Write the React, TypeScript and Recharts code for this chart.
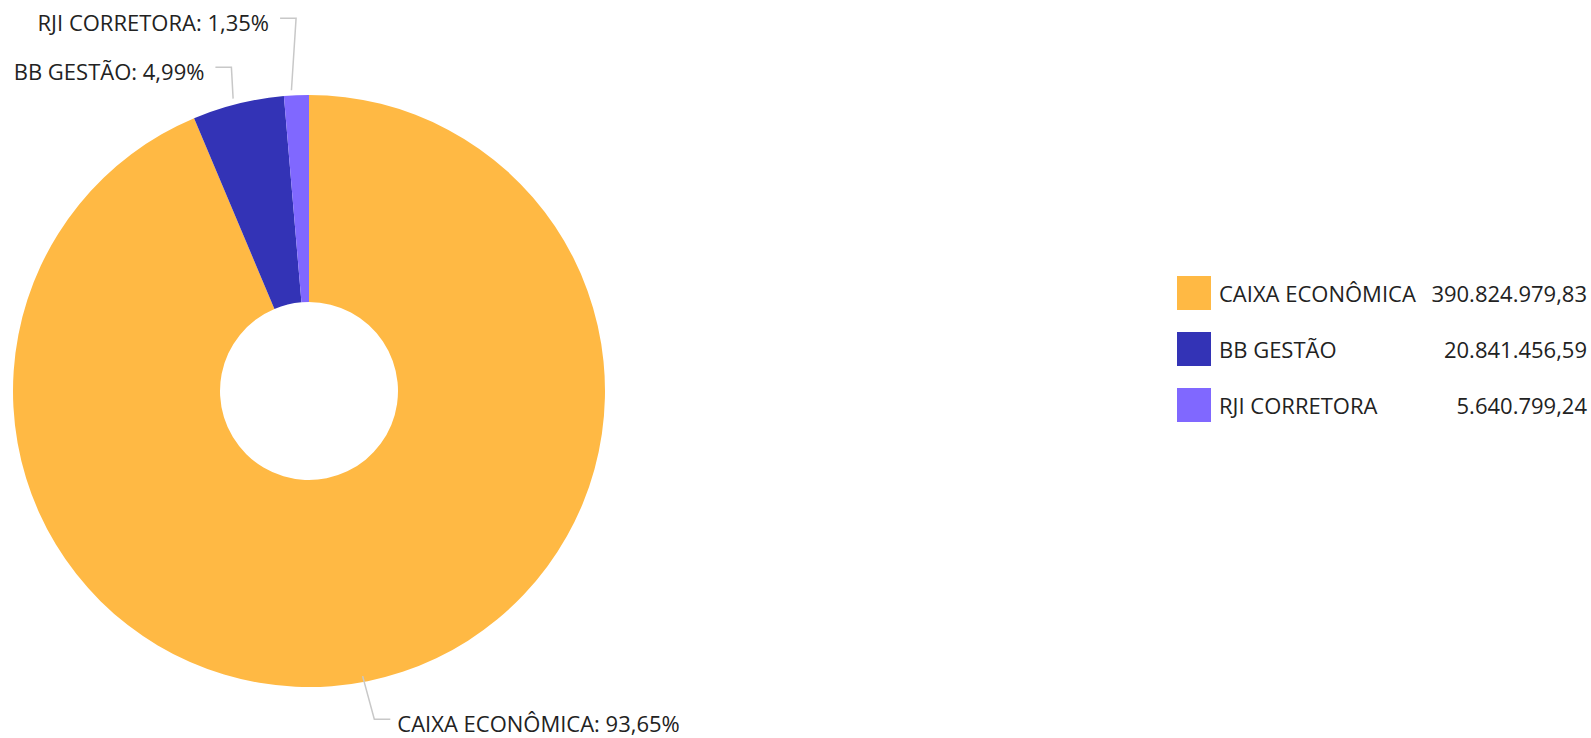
import React from "react"
import { PieChart, Pie, Cell, Legend } from "recharts"

const corretoras = ["CAIXA ECONÔMICA", "BB GESTÃO", "RJI CORRETORA"]
const valores = [390824979.83, 20841456.59, 5640799.24]
const cores = ["#FFB944", "#3333B6", "#8068FF"]

const CX = 304
const CY = 386
const OUTER = 296
const INNER = 89
const START = 90
const END = -270
const FONT = "'Open Sans', sans-serif"

const total = valores.reduce((a, b) => a + b, 0)
const data = corretoras.map((name, i) => ({ name, value: valores[i], fill: cores[i] }))

function formatBRL(v: number): string {
  const [int, dec] = v.toFixed(2).split(".")
  return `${int.replace(/\B(?=(\d{3})+(?!\d))/g, ".")},${dec}`
}

function formatPct(v: number): string {
  return `${((v / total) * 100).toFixed(2).replace(".", ",")}%`
}

// leader line layout: elbow on a ring outside the pie, pushed apart when labels collide
const RAD = Math.PI / 180
const labelLayout = (() => {
  let acc = START
  const items = valores.map((v, i) => {
    const span = ((END - START) * v) / total
    const mid = acc + span / 2
    acc += span
    const cos = Math.cos(mid * RAD)
    const sin = Math.sin(mid * RAD)
    const ring = OUTER + 38 - 6 * sin
    const left = cos < 0
    return {
      i,
      left,
      sx: CX + OUTER * cos,
      sy: CY - OUTER * sin,
      ex: CX + ring * cos + (left ? 6 : 3),
      ey: CY - ring * sin,
    }
  })
  const gap = 49
  for (const side of [true, false]) {
    const group = items.filter((d) => d.left === side).sort((a, b) => a.ey - b.ey)
    for (let k = group.length - 2; k >= 0; k--) {
      if (group[k].ey > group[k + 1].ey - gap) group[k].ey = group[k + 1].ey - gap
    }
  }
  return items.sort((a, b) => a.i - b.i)
})()

// eslint-disable-next-line @typescript-eslint/no-explicit-any
function renderLabel(props: any) {
  const l = labelLayout[props.index]
  const hx = l.left ? l.ex - 16 : l.ex + 16
  const tx = l.left ? hx - 11 : hx + 7
  return (
    <g key={`lbl-${props.index}`}>
      <polyline
        points={`${l.sx},${l.sy} ${l.ex},${l.ey} ${hx},${l.ey}`}
        fill="none"
        stroke="#c8c8c8"
        strokeWidth={1.5}
      />
      <text
        x={tx}
        y={l.ey + 4}
        textAnchor={l.left ? "end" : "start"}
        dominantBaseline="central"
        fontFamily={FONT}
        fontSize={22}
        fill="#222"
      >
        {`${corretoras[props.index]}: ${formatPct(valores[props.index])}`}
      </text>
    </g>
  )
}

function LegendContent() {
  return (
    <div style={{ fontFamily: FONT, fontSize: 22, color: "#222", width: 410 }}>
      {corretoras.map((name, i) => (
        <div key={name} style={{ display: "flex", alignItems: "center", height: 34, marginBottom: 22 }}>
          <div style={{ width: 34, height: 34, background: cores[i], flexShrink: 0 }} />
          <span style={{ marginLeft: 8, whiteSpace: "nowrap" }}>{name}</span>
          <span style={{ flex: 1, textAlign: "right", whiteSpace: "nowrap" }}>{formatBRL(valores[i])}</span>
        </div>
      ))}
    </div>
  )
}

export default function App() {
  return (
    <div style={{ position: "absolute", left: 0, top: 0, background: "#fff" }}>
      <PieChart width={1591} height={738}>
        <Pie
          data={data}
          dataKey="value"
          nameKey="name"
          cx={CX}
          cy={CY}
          outerRadius={OUTER}
          innerRadius={INNER}
          startAngle={START}
          endAngle={END}
          stroke="none"
          label={renderLabel}
          labelLine={false}
          isAnimationActive={false}
        >
          {data.map((d) => (
            <Cell key={d.name} fill={d.fill} />
          ))}
        </Pie>
        <Legend
          content={<LegendContent />}
          wrapperStyle={{ position: "absolute", left: 1177, top: 276, width: 410, bottom: "auto", right: "auto" }}
        />
      </PieChart>
    </div>
  )
}
